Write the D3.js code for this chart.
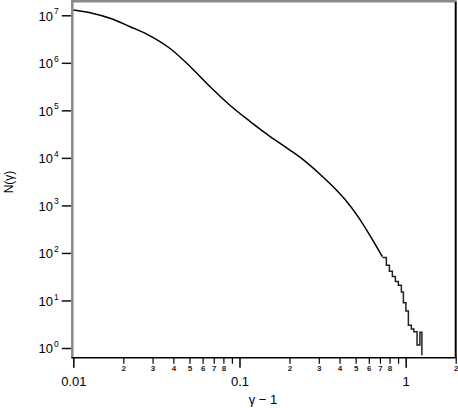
<!DOCTYPE html>
<html>
<head>
<meta charset="utf-8">
<script src="https://cdn.jsdelivr.net/npm/d3@7"></script>
<style>
  body { margin: 0; background: #fff; }
  svg { display: block; font-family: "Liberation Sans", Arial, sans-serif; }
</style>
</head>
<body>
<div id="chart"></div>
<script>
// smooth part of the distribution
const gammaMinus1 = [0.01, 0.01261, 0.01664, 0.02196, 0.02897, 0.03824, 0.05047, 0.06661, 0.0879,
  0.116, 0.1531, 0.202, 0.2321, 0.3063, 0.3878, 0.4331, 0.5117, 0.6128, 0.7237];
const counts = [1.29e7, 1.134e7, 8.65e6, 5.75e6, 3.70e6, 2.0e6, 8.36e5, 3.124e5, 1.262e5,
  5.81e4, 2.808e4, 1.445e4, 1.02e4, 4.47e3, 2.01e3, 1.312e3, 610, 226, 83.6];

// histogram steps in the tail
const tailGamma = [0.7237, 0.765, 0.798, 0.8317, 0.867, 0.9036, 0.942, 0.969, 1.003, 1.038,
  1.082, 1.12, 1.171, 1.218, 1.252];
const tailCounts = [80, 55, 41, 32, 25, 21, 15, 9, 6, 3, 2.5, 2.2, 1.15, 2.15, 0.7];

const yTicks = [1, 10, 100, 1e3, 1e4, 1e5, 1e6, 1e7];
const xMajor = [0.01, 0.1, 1];
const xMinor = [0.02, 0.03, 0.04, 0.05, 0.06, 0.07, 0.08, 0.09,
  0.2, 0.3, 0.4, 0.5, 0.6, 0.7, 0.8, 0.9, 2];

const width = 458, height = 408;
const plotLeft = 73.3, plotRight = 455.7, plotTop = 1.5, plotBottom = 357.7;

const svg = d3.select("#chart").append("svg")
  .attr("width", width).attr("height", height);

svg.append("rect").attr("width", width).attr("height", height).attr("fill", "#fff");

const x = d3.scaleLog().domain([0.01, 2]).range([plotLeft, plotRight]);
const y = d3.scaleLog().domain([Math.pow(10, -0.204), Math.pow(10, 7.29)]).range([plotBottom, plotTop]);

svg.append("clipPath").attr("id", "plot")
  .append("rect").attr("x", plotLeft).attr("y", plotTop)
  .attr("width", plotRight - plotLeft).attr("height", plotBottom - plotTop);

// x axis: major ticks
const xAxisMajor = svg.append("g")
  .attr("transform", `translate(0,${plotBottom})`)
  .call(d3.axisBottom(x).tickValues(xMajor).tickSize(10).tickPadding(9)
    .tickFormat(d => d === 1 ? "1" : String(d)));
xAxisMajor.select(".domain").remove();
xAxisMajor.selectAll("line").attr("stroke", "#000").attr("stroke-width", 1.5);
xAxisMajor.selectAll("text").attr("font-size", 13).attr("fill", "#000");

// x axis: minor ticks with small digits
const xAxisMinor = svg.append("g")
  .attr("transform", `translate(0,${plotBottom})`)
  .call(d3.axisBottom(x).tickValues(xMinor).tickSize(6).tickPadding(2)
    .tickFormat(d => {
      const m = Math.round(d / Math.pow(10, Math.floor(Math.log10(d) + 1e-9)));
      return m === 9 ? "" : String(m);
    }));
xAxisMinor.select(".domain").remove();
xAxisMinor.selectAll("line").attr("stroke", "#000").attr("stroke-width", 1.2);
xAxisMinor.selectAll("text").attr("font-size", 8).attr("font-weight", "bold").attr("fill", "#222");

// y axis
const yAxis = svg.append("g")
  .attr("transform", `translate(${plotLeft - 1.5},0)`)
  .call(d3.axisLeft(y).tickValues(yTicks).tickSize(10).tickFormat(""));
yAxis.select(".domain").remove();
yAxis.selectAll("line").attr("stroke", "#111").attr("stroke-width", 1.5);
yAxis.selectAll(".tick").each(function (d) {
  const t = d3.select(this).append("text")
    .attr("x", -13).attr("dy", "0.38em")
    .attr("text-anchor", "end").attr("font-size", 13).attr("fill", "#000");
  t.append("tspan").text("10");
  t.append("tspan").attr("font-size", 8.5).attr("dy", "-0.75em").attr("dx", 1)
    .text(Math.round(Math.log10(d)));
});

// frame
svg.append("line").attr("x1", plotLeft - 1).attr("x2", plotLeft - 1).attr("y1", 0).attr("y2", plotBottom)
  .attr("stroke", "#8a8a8a").attr("stroke-width", 2.5);
svg.append("line").attr("x1", plotLeft - 2).attr("x2", plotRight + 1).attr("y1", 1.2).attr("y2", 1.2)
  .attr("stroke", "#8a8a8a").attr("stroke-width", 2.6);
svg.append("line").attr("x1", plotRight).attr("x2", plotRight).attr("y1", 2).attr("y2", plotBottom)
  .attr("stroke", "#000").attr("stroke-width", 2);
svg.append("line").attr("x1", plotLeft - 2).attr("x2", plotRight + 1).attr("y1", plotBottom).attr("y2", plotBottom)
  .attr("stroke", "#000").attr("stroke-width", 1.5);

// curve
const main = gammaMinus1.map((g, i) => [g, counts[i]]);
const tail = tailGamma.map((g, i) => [g, tailCounts[i]]);

const lineSmooth = d3.line().x(d => x(d[0])).y(d => y(d[1])).curve(d3.curveMonotoneX);
const lineStep = d3.line().x(d => x(d[0])).y(d => y(d[1])).curve(d3.curveStepAfter);

const plot = svg.append("g").attr("clip-path", "url(#plot)");
plot.append("path").attr("d", lineSmooth(main))
  .attr("fill", "none").attr("stroke", "#000").attr("stroke-width", 1.5);
plot.append("path").attr("d", lineStep(tail))
  .attr("fill", "none").attr("stroke", "#222").attr("stroke-width", 1.5);

// axis titles
svg.append("text").attr("x", 263).attr("y", 404).attr("text-anchor", "middle")
  .attr("font-size", 13).text("γ − 1");
svg.append("text").attr("transform", "translate(13,182) rotate(-90)")
  .attr("text-anchor", "middle").attr("font-size", 12).text("N(γ)");
</script>
</body>
</html>
